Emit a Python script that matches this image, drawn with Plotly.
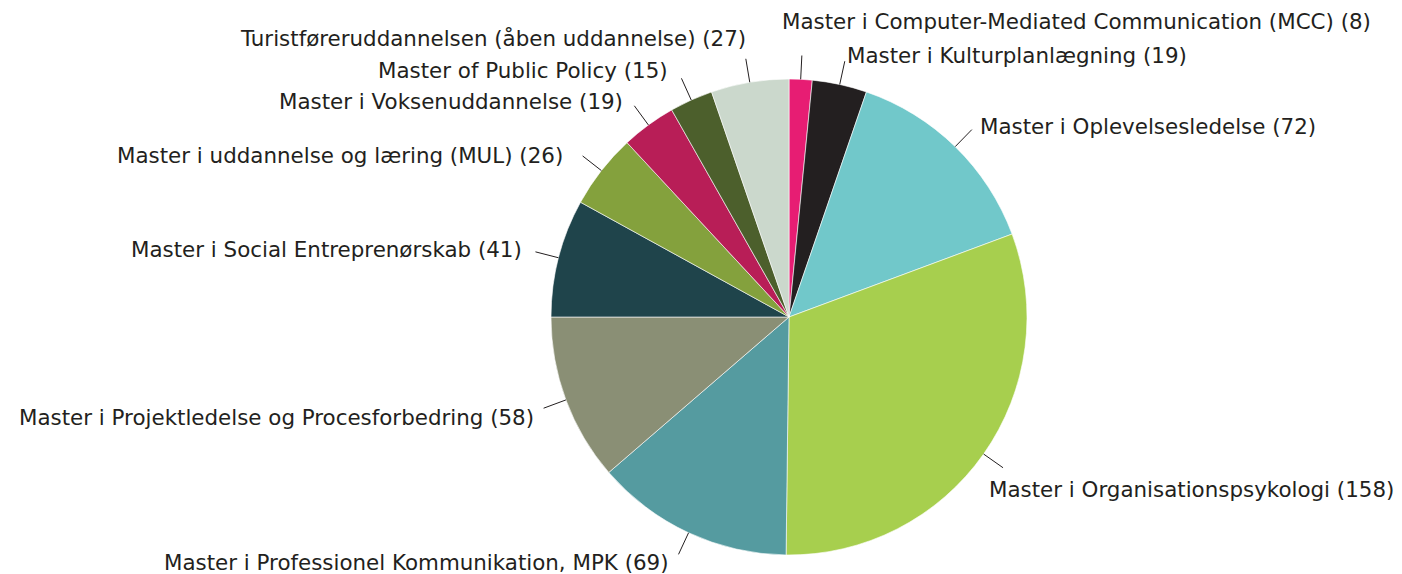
import math
import plotly.graph_objects as go

# ---- data ----
programs = [
    "Master i Computer-Mediated Communication (MCC)",
    "Master i Kulturplanlægning",
    "Master i Oplevelsesledelse",
    "Master i Organisationspsykologi",
    "Master i Professionel Kommunikation, MPK",
    "Master i Projektledelse og Procesforbedring",
    "Master i Social Entreprenørskab",
    "Master i uddannelse og læring (MUL)",
    "Master i Voksenuddannelse",
    "Master of Public Policy",
    "Turistføreruddannelsen (åben uddannelse)",
]
counts = [8, 19, 72, 158, 69, 58, 41, 26, 19, 15, 27]

# ---- styling ----
colors = ["#E71D73", "#231F20", "#71C8CA", "#A7CF4E", "#559BA0", "#8A8F75",
          "#1F444B", "#84A13D", "#B81E57", "#4C5F2C", "#CBD8CC"]
# label placement relative to the leader-line end: (xanchor, xshift px, yshift px)
label_place = [("left", -22, 34), ("left", 0, 6), ("left", 6, 3), ("left", -16, -22),
               ("right", -8, -8), ("right", -8, -9), ("right", -11, 2),
               ("right", -18, 0), ("right", -9, 4), ("right", -11, 8), ("right", 2, 20)]
FONT = "DejaVu Sans, Verdana, sans-serif"
FONT_SIZE = 21.4
TEXT_COLOR = "#231F20"

# the page body adds an 8px offset, so the figure is sized to fit the window
W, H = 1394, 566
ML, MT = 543, 71
PIE = 476
MR, MB = W - ML - PIE, H - MT - PIE

fig = go.Figure(go.Pie(
    labels=programs,
    values=counts,
    sort=False,
    direction="clockwise",
    rotation=0,
    textinfo="none",
    hoverinfo="label+value",
    marker=dict(colors=colors, line=dict(color="#FFFFFF", width=0.6)),
    showlegend=False,
))

total = sum(counts)
shapes, annotations = [], []
cum = 0
for name, v, (xa, xs, ys) in zip(programs, counts, label_place):
    mid = (cum + v / 2) / total * 2 * math.pi
    cum += v
    r0, r1 = 1.0, 1.1
    x0 = 0.5 + 0.5 * r0 * math.sin(mid)
    y0 = 0.5 + 0.5 * r0 * math.cos(mid)
    x1 = 0.5 + 0.5 * r1 * math.sin(mid)
    y1 = 0.5 + 0.5 * r1 * math.cos(mid)
    shapes.append(dict(type="line", xref="paper", yref="paper",
                       x0=x0, y0=y0, x1=x1, y1=y1,
                       line=dict(color=TEXT_COLOR, width=1)))
    annotations.append(dict(xref="paper", yref="paper", x=x1, y=y1,
                            text=f"{name} ({v})", showarrow=False,
                            xanchor=xa, yanchor="middle", xshift=xs, yshift=ys,
                            font=dict(family=FONT, size=FONT_SIZE, color=TEXT_COLOR)))

fig.update_layout(
    width=W, height=H,
    margin=dict(l=ML, r=MR, t=MT, b=MB, pad=0),
    paper_bgcolor="#FFFFFF",
    plot_bgcolor="#FFFFFF",
    shapes=shapes,
    annotations=annotations,
    font=dict(family=FONT, color=TEXT_COLOR),
)

fig.write_html("out.html")
